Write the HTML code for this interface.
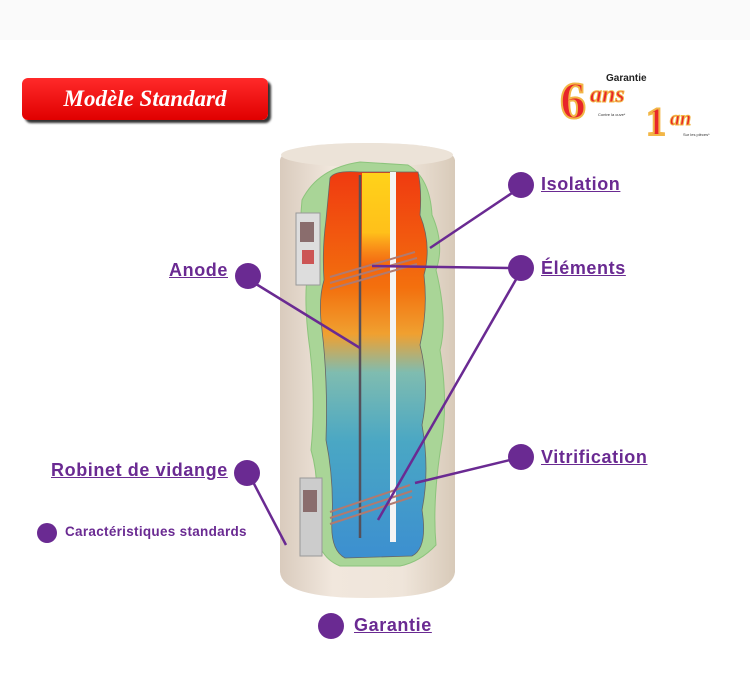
<!DOCTYPE html>
<html><head><meta charset="utf-8"><style>
html,body{margin:0;padding:0;background:#fff;}
body{width:750px;height:689px;position:relative;overflow:hidden;font-family:"Liberation Sans",sans-serif;}
.lbl{position:absolute;color:#6a2a92;font-weight:bold;font-size:18px;letter-spacing:0.6px;text-decoration:underline;white-space:nowrap;}
</style></head><body>
<div style="position:absolute;left:0;top:0;width:750px;height:40px;background:#fafafa"></div>
<div style="position:absolute;left:22px;top:78px;width:246px;height:42px;background:linear-gradient(#ff2a2a,#e00000);border-radius:6px;box-shadow:3px 3px 2px #333;color:#fff;font-family:'Liberation Serif',serif;font-style:italic;font-weight:bold;font-size:23px;line-height:42px;text-align:center;">Modèle Standard</div>
<div style="position:absolute;left:606px;top:73px;font-size:10px;font-weight:bold;color:#222;">Garantie</div>
<div style="position:absolute;left:560px;top:76px;font-family:'Liberation Serif',serif;font-weight:bold;font-size:52px;color:#e8262a;-webkit-text-stroke:2px #f2b646;line-height:52px;">6</div>
<div style="position:absolute;left:590px;top:82px;font-family:'Liberation Serif',serif;font-style:italic;font-weight:bold;font-size:24px;color:#e8262a;-webkit-text-stroke:1px #f2b646;">ans</div>
<div style="position:absolute;left:598px;top:112px;font-size:4px;color:#333;">Contre la cuve*</div>
<div style="position:absolute;left:646px;top:102px;font-family:'Liberation Serif',serif;font-weight:bold;font-size:40px;color:#e8262a;-webkit-text-stroke:2px #f2b646;line-height:40px;">1</div>
<div style="position:absolute;left:670px;top:108px;font-family:'Liberation Serif',serif;font-style:italic;font-weight:bold;font-size:20px;color:#e8262a;-webkit-text-stroke:1px #f2b646;">an</div>
<div style="position:absolute;left:683px;top:132px;font-size:4px;color:#333;">Sur les pièces*</div>

<svg width="750" height="689" style="position:absolute;left:0;top:0">
<defs>
<linearGradient id="shell" x1="0" x2="1">
<stop offset="0" stop-color="#d9cbbd"/><stop offset="0.3" stop-color="#f1e7dd"/><stop offset="0.7" stop-color="#efe5da"/><stop offset="1" stop-color="#d8cab9"/></linearGradient>
<linearGradient id="water" x1="0" y1="0" x2="0" y2="1">
<stop offset="0" stop-color="#f03a10"/><stop offset="0.3" stop-color="#f3700e"/><stop offset="0.42" stop-color="#f0a030"/><stop offset="0.52" stop-color="#7fbcb0"/><stop offset="0.7" stop-color="#4aa7c4"/><stop offset="1" stop-color="#3c8fd0"/></linearGradient>
<linearGradient id="yel" x1="0" y1="0" x2="0" y2="1">
<stop offset="0" stop-color="#ffd21a"/><stop offset="0.35" stop-color="#ffc01a"/><stop offset="0.55" stop-color="rgba(255,180,40,0)"/></linearGradient>
</defs>
<path d="M280,160 Q282,143 367,143 Q452,143 455,160 L455,572 Q452,598 367,598 Q282,598 280,572 Z" fill="url(#shell)"/>
<ellipse cx="367" cy="155" rx="86" ry="12" fill="#ece3d8"/>
<path d="M302,200 Q318,168 360,162 L408,165 Q430,178 432,215 Q445,245 436,270 Q448,320 440,350 Q448,400 442,440 Q432,500 436,545 Q420,562 400,566 L340,566 Q315,556 315,520 Q320,480 311,450 Q316,400 310,350 Q303,300 308,270 Q298,240 302,200 Z" fill="#a9d597" stroke="#8cc47c"/>
<path d="M330,178 Q334,170 360,172 L418,172 Q422,190 420,215 Q432,245 424,275 Q428,310 420,345 Q430,385 422,425 Q430,470 422,510 Q428,548 412,556 L345,558 Q330,550 332,520 Q334,480 326,440 Q328,380 322,330 Q318,300 324,280 Q322,250 326,220 Z" fill="url(#water)" stroke="#666" stroke-width="0.8"/>
<rect x="362" y="173" width="28" height="170" fill="url(#yel)"/>
<rect x="390" y="172" width="6" height="370" fill="#f4f4f4"/>
<line x1="360" y1="175" x2="360" y2="538" stroke="#55505a" stroke-width="2.5"/>
<g stroke="#b07a70" stroke-width="2" fill="none">
<path d="M330,277 L415,252 M330,283 L417,258 M330,289 L417,264"/>
<path d="M330,512 L410,485 M330,518 L412,491 M330,524 L412,497"/>
</g>
<rect x="296" y="213" width="24" height="72" fill="#ddd" stroke="#999"/>
<rect x="300" y="222" width="14" height="20" fill="#8a6d6d"/>
<rect x="302" y="250" width="12" height="14" fill="#c55"/>
<rect x="300" y="478" width="22" height="78" fill="#ccc" stroke="#999"/>
<rect x="303" y="490" width="14" height="22" fill="#8a6d6d"/>
<g stroke="#6a2a92" stroke-width="2.5">
<line x1="512" y1="193" x2="430" y2="248"/>
<line x1="510" y1="268" x2="372" y2="266"/>
<line x1="518" y1="276" x2="378" y2="520"/>
<line x1="256" y1="284" x2="360" y2="348"/>
<line x1="510" y1="460" x2="415" y2="483"/>
<line x1="252" y1="480" x2="286" y2="545"/>
</g>
<g fill="#6a2a92">
<circle cx="521" cy="185" r="13"/><circle cx="521" cy="268" r="13"/><circle cx="521" cy="457" r="13"/>
<circle cx="248" cy="276" r="13"/><circle cx="247" cy="473" r="13"/><circle cx="47" cy="533" r="10"/><circle cx="331" cy="626" r="13"/>
</g>
</svg>
<div class="lbl" style="left:541px;top:174px">Isolation</div>
<div class="lbl" style="left:541px;top:258px">Éléments</div>
<div class="lbl" style="left:541px;top:447px">Vitrification</div>
<div class="lbl" style="right:522px;top:260px">Anode</div>
<div class="lbl" style="left:51px;top:460px">Robinet de vidange</div>
<div class="lbl" style="left:354px;top:615px">Garantie</div>
<div style="position:absolute;left:65px;top:524px;font-size:13.5px;letter-spacing:0.3px;font-weight:bold;color:#6a2a92;">Caractéristiques standards</div>
</body></html>
